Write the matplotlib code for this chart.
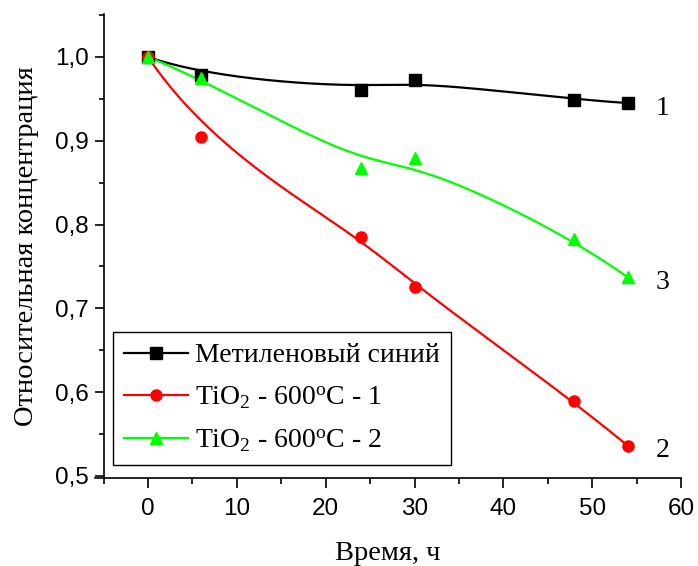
import matplotlib
matplotlib.use('Agg')
import matplotlib.pyplot as plt
from matplotlib.ticker import MultipleLocator, FuncFormatter
import numpy as np

# время, ч
time_h = [0, 6, 24, 30, 48, 54]
# относительная концентрация
mb = [1.000, 0.978, 0.961, 0.973, 0.949, 0.945]
tio2_1 = [1.000, 0.905, 0.785, 0.726, 0.589, 0.536]
tio2_2 = [1.000, 0.975, 0.867, 0.879, 0.783, 0.737]

labels = ['Метиленовый синий', 'TiO$_2$ - 600$^{\\rm o}$C - 1', 'TiO$_2$ - 600$^{\\rm o}$C - 2']
curve_marks = ['1', '2', '3']


def bspline(px, py, num=300):
    # кубический B-сплайн (как в Origin), контрольные точки = данные
    p = np.column_stack([px, py]).astype(float)
    n = len(p)
    k = 3
    knots = np.concatenate([[0] * (k + 1), np.arange(1, n - k), [n - k] * (k + 1)]).astype(float)
    ts = np.linspace(0, n - k, num)
    out = []
    for t in ts:
        if t >= knots[-1]:
            out.append(p[-1])
            continue
        N = np.zeros(len(knots) - 1)
        for i in range(len(knots) - 1):
            if knots[i] <= t < knots[i + 1]:
                N[i] = 1.0
        for d in range(1, k + 1):
            Nn = np.zeros(len(knots) - 1 - d)
            for i in range(len(Nn)):
                a = 0.0
                b = 0.0
                if knots[i + d] != knots[i]:
                    a = (t - knots[i]) / (knots[i + d] - knots[i]) * N[i]
                if knots[i + d + 1] != knots[i + 1]:
                    b = (knots[i + d + 1] - t) / (knots[i + d + 1] - knots[i + 1]) * N[i + 1]
                Nn[i] = a + b
            N = Nn
        out.append(N[:n] @ p)
    out = np.array(out)
    return out[:, 0], out[:, 1]


def main():
    serif = ['Liberation Serif', 'DejaVu Serif']
    sans = ['Liberation Sans', 'DejaVu Sans']
    plt.rcParams['mathtext.fontset'] = 'custom'
    plt.rcParams['mathtext.rm'] = 'Liberation Serif'
    plt.rcParams['mathtext.it'] = 'Liberation Serif:italic'

    fig = plt.figure(figsize=(6.98, 5.66), dpi=100)
    ax = fig.add_axes([0.1357, 0.1555, 0.840, 0.8198])

    series = [(mb, 'black', 's', 8), (tio2_1, '#ff0000', 'o', 8), (tio2_2, '#00ff00', '^', 9)]
    for (vals, color, marker, ms), lab in zip(series, labels):
        sx, sy = bspline(time_h, vals)
        ax.plot(sx, sy, color=color, linewidth=1.6, zorder=2)
        ax.plot(time_h, vals, linestyle='none', marker=marker, color=color,
                markersize=ms, zorder=3)
        # для легенды
        ax.plot([], [], color=color, marker=marker, markersize=ms, linewidth=1.6, label=lab)

    for vals, mark in zip([mb, tio2_1, tio2_2], curve_marks):
        ax.text(time_h[-1] + 3.9, vals[-1] - 0.006, mark, fontsize=20,
                family=serif, ha='center', va='center')

    ax.set_xlim(-6, 60)
    ax.set_ylim(0.4976, 1.0513)
    ax.spines['top'].set_visible(False)
    ax.spines['right'].set_visible(False)
    ax.spines['left'].set_position(('data', -5))
    for sp in ax.spines.values():
        sp.set_linewidth(1.2)

    ax.xaxis.set_major_locator(MultipleLocator(10))
    ax.xaxis.set_minor_locator(MultipleLocator(5))
    ax.yaxis.set_major_locator(MultipleLocator(0.1))
    ax.yaxis.set_minor_locator(MultipleLocator(0.05))
    ax.yaxis.set_major_formatter(FuncFormatter(lambda v, p: f'{v:.1f}'.replace('.', ',')))
    ax.tick_params(axis='x', which='major', direction='out', length=7.5, width=1.2, labelsize=17.5, pad=7)
    ax.tick_params(axis='x', which='minor', direction='out', length=4.5, width=1.2)
    ax.tick_params(axis='y', which='major', direction='out', length=6.5, width=1.2, labelsize=17.5, pad=4)
    ax.tick_params(axis='y', which='minor', direction='out', length=3.5, width=1.2)
    for lbl in ax.get_xticklabels() + ax.get_yticklabels():
        lbl.set_family(sans)

    ax.set_xlabel('Время, ч', fontsize=20.5, family=serif, labelpad=15)
    ax.set_ylabel('Относительная концентрация', fontsize=20.5, family=serif, labelpad=12)

    leg = ax.legend(loc='lower left', bbox_to_anchor=(0.031, 0.028), borderaxespad=0,
                    prop={'family': serif, 'size': 20},
                    frameon=True, fancybox=False, edgecolor='black', handlelength=2.3,
                    borderpad=0.4, labelspacing=0.6, handletextpad=0.25, framealpha=1)
    leg.get_frame().set_linewidth(1.0)

    fig.savefig('out.png', dpi=100)


if __name__ == '__main__':
    main()
